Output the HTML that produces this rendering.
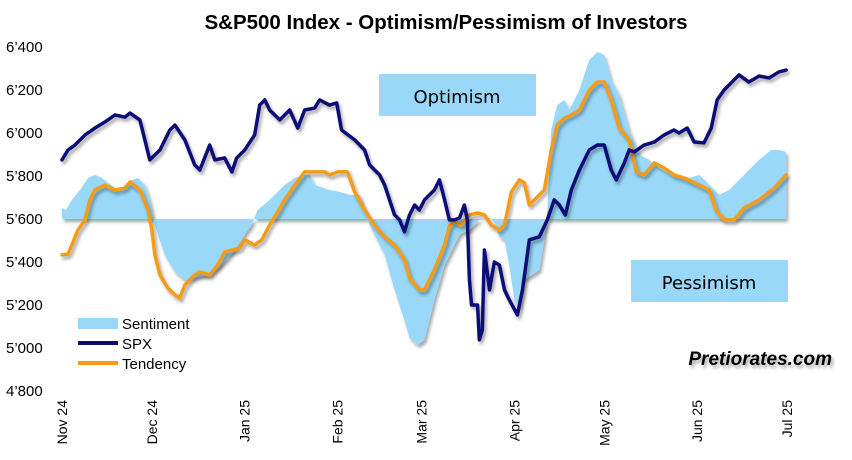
<!DOCTYPE html>
<html><head><meta charset="utf-8"><style>
body{margin:0;background:#fff;}
svg{display:block;font-family:"Liberation Sans",Arial,sans-serif;}
</style></head><body>
<svg id="c" width="852" height="460" viewBox="0 0 852 460">
<defs><filter id="sh" x="-5%" y="-5%" width="110%" height="120%"><feDropShadow dx="2" dy="3" stdDeviation="1.5" flood-color="#000" flood-opacity="0.35"/></filter></defs>
<text x="446" y="29" text-anchor="middle" font-size="20.5" font-weight="bold">S&amp;P500 Index - Optimism/Pessimism of Investors</text>
<g id="yax"></g>
<g id="xax"></g>
<g id="plot"></g>
<rect x="379" y="74" width="157" height="42" fill="#99d8f8"/>
<text x="457" y="103" text-anchor="middle" font-size="18" font-family="DejaVu Sans,sans-serif">Optimism</text>
<rect x="631" y="260" width="157" height="42" fill="#99d8f8"/>
<text x="709" y="289" text-anchor="middle" font-size="18" font-family="DejaVu Sans,sans-serif">Pessimism</text>
<g>
<rect x="78" y="318" width="40" height="11" fill="#99d8f8"/>
<text x="122" y="329" font-size="15">Sentiment</text>
<line x1="78" y1="343" x2="118" y2="343" stroke="#0a0a78" stroke-width="4"/>
<text x="122" y="349" font-size="15">SPX</text>
<line x1="78" y1="363" x2="118" y2="363" stroke="#f59b15" stroke-width="4"/>
<text x="122" y="369" font-size="15">Tendency</text>
</g>
<text x="832" y="365" text-anchor="end" font-size="19" font-weight="bold" font-style="italic" filter="url(#sh)">Pretiorates.com</text>
</svg>
<script>
const yTicks=[4800,5000,5200,5400,5600,5800,6000,6200,6400];
const xLabels=["Nov 24","Dec 24","Jan 25","Feb 25","Mar 25","Apr 25","May 25","Jun 25","Jul 25"];
const xLabelDays=[0,30,61,92,120,151,181,212,242];
const baseline=5600;
const spxDays=[0,2,4.3,7.7,11,14.3,17.7,21,22.7,26,29.3,32.7,36,37.7,41,44.3,46,49.3,51,54.3,56.7,58.3,61,64.3,66,67.7,69.3,71,72.7,76,78.7,81,84.3,86,89.3,91.7,93.3,97.7,101,102.7,106,107.7,111,112.7,114.3,116,117.7,119.3,121,124.3,126,127.7,129.3,131,132.7,134.3,135.3,136,136.7,138.7,139.3,140.3,141,142.7,144.3,146,147.7,149.3,152,153.7,156,159.3,162,164.3,166,168,170,172.7,176,178.7,181,183.3,185,187.7,189.3,191,194.3,197.7,201,204.3,206,208.7,211,214.3,216.7,218.7,221,226,229.3,232.7,236,239.3,241.7];
const spxValues=[5875,5921,5944,5991,6023,6051,6084,6074,6093,6061,5875,5921,6014,6037,5968,5851,5828,5944,5875,5884,5819,5884,5921,5991,6130,6154,6107,6084,6061,6107,6023,6107,6116,6154,6130,6140,6014,5968,5921,5851,5805,5758,5619,5596,5540,5619,5665,5642,5689,5735,5782,5689,5596,5596,5605,5665,5596,5317,5200,5200,5038,5084,5456,5270,5400,5386,5270,5224,5154,5270,5503,5517,5596,5689,5665,5619,5735,5828,5921,5944,5944,5828,5782,5861,5921,5912,5944,5958,5991,6014,6000,6023,5958,5954,6023,6154,6200,6270,6237,6265,6256,6284,6293];
const tenDays=[0,2,3.3,5.3,7.7,9.3,11,14.3,17.7,21,22.7,26,28.7,30,31,32.7,35.3,37.7,39.3,41,44.3,46,49.3,52,54.3,59.3,61,64.3,66.7,69.3,72,74.3,77.7,81,84.3,87.7,89.3,92,95.3,97.7,101,104.3,107.7,111,114.3,116,119.3,121,124.3,127.7,129.3,131,133.3,136,138.7,141,143.3,146,147.7,150,152.7,154.3,156,157.7,161,163.3,165.3,167.7,170,172.7,176,178.7,181,183.3,186,189.3,191.7,194.3,197.7,201,204.3,207.7,212.7,216,218.3,221,224.3,227.7,232.7,237.7,241.7];
const tenValues=[5433,5437,5479,5549,5596,5689,5735,5758,5735,5744,5772,5735,5642,5549,5433,5340,5279,5247,5233,5293,5340,5354,5340,5386,5447,5465,5503,5479,5503,5572,5633,5689,5758,5819,5819,5819,5805,5819,5819,5726,5642,5572,5517,5479,5410,5326,5270,5270,5363,5479,5568,5586,5572,5619,5628,5619,5572,5549,5572,5726,5782,5768,5665,5689,5735,5921,6037,6070,6084,6107,6200,6237,6237,6154,6023,5968,5819,5805,5861,5837,5805,5791,5758,5735,5642,5596,5596,5651,5689,5744,5805];
const senDays=[0,1.3,3.3,6,8.7,11,13.3,15.3,17.7,21,23.3,25.3,27.7,29.3,31,34.3,37.7,41,44.3,49.3,54.3,57.7,61,63.3,65.3,69.3,74.3,77.7,81,82.7,84.3,89.3,92.7,96,99.3,102.7,107.7,111,114.3,116,118.7,121,124.3,127.7,131,132.7,134.3,136,139.3,142.7,144.3,146,147.7,149.3,151,152.7,154.3,159.3,161,162,163.3,165.3,167.7,169.3,172.7,176,178.7,181,183.3,186,189.3,192.7,196,199.3,203.3,209.3,212.7,216,219.3,222.7,227.7,232.7,236.7,239.3,241.7];
const senValues=[5651,5642,5689,5735,5791,5805,5791,5768,5744,5744,5782,5791,5758,5689,5572,5433,5354,5317,5326,5340,5400,5456,5526,5572,5642,5689,5758,5791,5805,5805,5758,5735,5726,5712,5712,5572,5433,5270,5130,5047,5014,5038,5224,5386,5479,5526,5540,5549,5596,5605,5586,5517,5503,5386,5224,5177,5317,5363,5503,5642,6014,6130,6154,6107,6200,6340,6377,6363,6247,6177,6014,5898,5875,5837,5805,5791,5805,5758,5712,5735,5805,5875,5921,5921,5912];

const X0=62,X1=787,D1=242,Y0=391,Y1=47,V0=4800,V1=6400;
const xs=d=>X0+(d/D1)*(X1-X0);
const ys=v=>Y0-(v-V0)/(V1-V0)*(Y0-Y1);
const NS="http://www.w3.org/2000/svg";
const mk=(t,a,p)=>{const e=document.createElementNS(NS,t);for(const k in a)e.setAttribute(k,a[k]);p.appendChild(e);return e;};
const yax=document.getElementById('yax'),xax=document.getElementById('xax'),plot=document.getElementById('plot');
yTicks.forEach(v=>{
  const t=mk('text',{x:6,y:ys(v)+5,'font-size':15},yax);
  
  
  t.textContent=String(v).replace(/(\d)(\d{3})$/,"$1’$2");
});
xLabels.forEach((l,i)=>{
  const x=xs(xLabelDays[i]);
  const t=mk('text',{x:0,y:0,'font-size':14,'text-anchor':'end',transform:`translate(${x+5},400) rotate(-90)`},xax);
  
  
  t.textContent=l;
});
let d=`M${xs(senDays[0])},${ys(baseline)}`;
senDays.forEach((dd,i)=>{d+=` L${xs(dd)},${ys(senValues[i])}`;});
d+=` L${xs(senDays[senDays.length-1])},${ys(baseline)} Z`;
const area=mk('path',{d,fill:'#99d8f8',filter:'url(#sh)'},plot);


function line(days,vals,col,name){
  const p=mk('path',{d:days.map((dd,i)=>(i?'L':'M')+xs(dd)+','+ys(vals[i])).join(' '),fill:'none',stroke:col,'stroke-width':3.5,'stroke-linejoin':'round','stroke-linecap':'round',filter:'url(#sh)'},plot);
  
  
}
line(tenDays,tenValues,'#f59b15','tendency-line');
line(spxDays,spxValues,'#0a0a78','spx-line');
</script>
</body></html>
